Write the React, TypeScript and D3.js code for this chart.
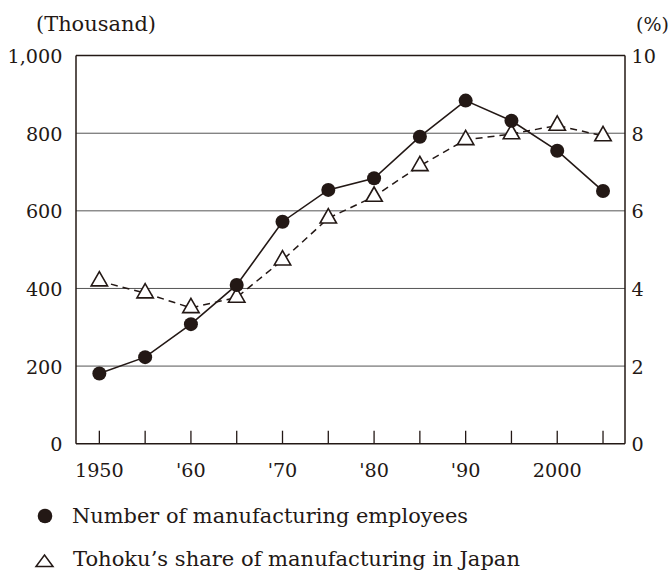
import React from 'react'
import * as d3 from 'd3'

const years = [1950, 1955, 1960, 1965, 1970, 1975, 1980, 1985, 1990, 1995, 2000, 2005]
const employees = [181, 223, 308, 409, 572, 654, 684, 791, 884, 832, 755, 651]
const sharePct = [4.19, 3.88, 3.5, 3.77, 4.73, 5.81, 6.37, 7.16, 7.83, 7.98, 8.2, 7.93]

const leftTicks = [0, 200, 400, 600, 800, 1000]
const rightTicks = [0, 2, 4, 6, 8, 10]
const xLabelYears = [1950, 1960, 1970, 1980, 1990, 2000]
const xLabelTexts = ['1950', "'60", "'70", "'80", "'90", '2000']

const ink = '#231815'
const font = "'DejaVu Serif', 'Liberation Serif', serif"

const W = 669
const H = 570
const margin = { top: 55.6, right: 44, bottom: 126.3, left: 76 }

const App: React.FC = () => {
  const x = d3.scaleLinear().domain([1947.45, 2007.4]).range([margin.left, W - margin.right])
  const yL = d3.scaleLinear().domain([0, 1000]).range([H - margin.bottom, margin.top])
  const yR = d3.scaleLinear().domain([0, 10]).range([H - margin.bottom, margin.top])

  const x0 = margin.left
  const x1 = W - margin.right
  const yBase = H - margin.bottom
  const yTop = margin.top

  const empLine = d3.line<number>()
    .x((_, i) => x(years[i]))
    .y(d => yL(d))(employees) || ''
  const shareLine = d3.line<number>()
    .x((_, i) => x(years[i]))
    .y(d => yR(d))(sharePct) || ''

  // open triangle marker, centred on the data point
  const tri = (cx: number, cy: number) =>
    `M${cx},${cy - 9.5}L${cx + 8.2},${cy + 4.8}L${cx - 8.2},${cy + 4.8}Z`

  const tickYears = d3.range(1950, 2006, 5)
  const ts = { fontFamily: font } as React.CSSProperties

  return (
    <svg width={W} height={H} style={{ position: 'absolute', left: 0, top: 0, background: '#fff', fontFamily: font }}
      fill={ink}>
      {/* gridlines */}
      {leftTicks.filter(t => t > 0 && t < 1000).map(t => (
        <line key={t} x1={x0} x2={x1} y1={yL(t)} y2={yL(t)} stroke="#555" strokeWidth={1} />
      ))}
      {/* frame */}
      <line x1={x0} x2={x1} y1={yTop} y2={yTop} stroke={ink} strokeWidth={1.5} />
      <line x1={x0} x2={x1} y1={yBase} y2={yBase} stroke={ink} strokeWidth={1.5} />
      <line x1={x0} x2={x0} y1={yTop} y2={yBase} stroke={ink} strokeWidth={1.5} />
      <line x1={x1} x2={x1} y1={yTop} y2={yBase} stroke={ink} strokeWidth={1.5} />

      {/* x ticks */}
      {tickYears.map(yr => (
        <line key={yr} x1={x(yr)} x2={x(yr)} y1={yBase} y2={yBase - 13} stroke={ink} strokeWidth={1.3} />
      ))}
      {xLabelYears.map((yr, i) => (
        <text key={yr} style={ts} x={x(yr)} y={yBase + 33.5} textAnchor="middle" fontSize={19.2}>{xLabelTexts[i]}</text>
      ))}

      {/* left axis labels */}
      {leftTicks.map(t => (
        <text key={t} style={ts} x={x0 - 13.5} y={yL(t) + 7.5} textAnchor="end" fontSize={19.2}>{d3.format(',')(t)}</text>
      ))}
      {/* right axis labels */}
      {rightTicks.map(t => (
        <text key={t} style={ts} x={x1 + 6.5} y={yR(t) + 7.5} textAnchor="start" fontSize={19.2}>{t}</text>
      ))}
      <text style={ts} x={36} y={30.5} fontSize={20} textLength={120} lengthAdjust="spacingAndGlyphs">(Thousand)</text>
      <text style={ts} x={669} y={31} textAnchor="end" fontSize={19}>(%)</text>

      {/* series */}
      <path d={shareLine} fill="none" stroke={ink} strokeWidth={1.5} strokeDasharray="7,5" />
      <path d={empLine} fill="none" stroke={ink} strokeWidth={1.6} />
      {sharePct.map((v, i) => (
        <path key={i} d={tri(x(years[i]), yR(v))} fill="#fff" stroke={ink} strokeWidth={1.6} />
      ))}
      {employees.map((v, i) => (
        <circle key={i} cx={x(years[i])} cy={yL(v)} r={7} fill={ink} />
      ))}

      {/* legend */}
      <circle cx={45} cy={516} r={7.3} fill={ink} />
      <text style={ts} x={72} y={523} fontSize={20.8} textLength={396} lengthAdjust="spacingAndGlyphs">Number of manufacturing employees</text>
      <path d="M44.5,555L53,566.5L36,566.5Z" fill="#fff" stroke={ink} strokeWidth={1.5} />
      <text style={ts} x={73} y={566} fontSize={20.8} textLength={447} lengthAdjust="spacingAndGlyphs">Tohoku’s share of manufacturing in Japan</text>
    </svg>
  )
}

export default App
